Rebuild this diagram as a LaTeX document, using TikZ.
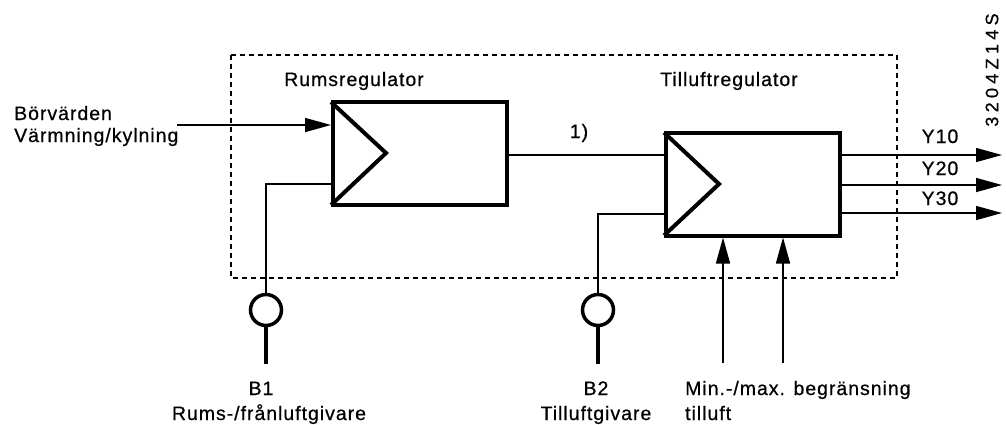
\documentclass[tikz,border=0pt]{standalone}
\usepackage{fontspec}
\setmainfont{Liberation Sans}[LetterSpace=5,FakeBold=0.6]
\usetikzlibrary{arrows.meta}
\begin{document}
\begin{tikzpicture}[x=1pt,y=-1pt,
  lbl/.style={inner sep=0pt,anchor=base,font=\fontsize{19.5}{21}\selectfont},
  lblw/.style={lbl,anchor=base west},
  block/.style={draw,line width=4pt,minimum width=174pt,minimum height=103pt,inner sep=0pt},
  amp/.style={line width=4pt,line join=miter},
  sig/.style={line width=1.5pt},
  frame/.style={line width=1.6pt,dash pattern=on 5pt off 4pt},
  sensor/.style={draw,circle,line width=3.5pt,minimum size=31pt,inner sep=0pt},
  stub/.style={line width=4.5pt},
  arr/.style={line width=1.5pt,-{Triangle[length=26pt,width=14pt]}}]
\useasboundingbox (0,0) rectangle (1006,424);
\fill[white] (0,0) rectangle (1006,424);

% controller boundary
\draw[frame] (231,55) rectangle (897,278);

% controller blocks
\node[block] (rr) at (420,153.5) {};
\node[block] (tr) at (753,184) {};
\coordinate (rrapex) at (386,153);
\coordinate (trapex) at (719,184);
\draw[amp] ([yshift=-2pt]rr.north west) -- (rrapex) -- ([yshift=2pt]rr.south west);
\draw[amp] ([yshift=-2pt]tr.north west) -- (trapex) -- ([yshift=2pt]tr.south west);

\node[lbl] (rrlbl) at (354,86) {Rumsregulator};
\node[lbl] (trlbl) at (729,86) {Tilluftregulator};

% setpoint input
\coordinate (sp) at (177,125);
\node[lblw] (sptxt1) at (14,120) {Börvärden};
\node[lblw] (sptxt2) at (14,142) {Värmning/kylning};
\draw[arr] (sp) -- (sp -| rr.west);

% link between the controllers
\coordinate (lk) at (508,155);
\draw[sig] (lk) -- (lk -| tr.west);
\node[lbl] (lklbl) at (579,138) {1)};

% sensor B1
\node[sensor] (b1) at (266,310) {};
\coordinate (b1end) at (266,364);
\coordinate (b1in) at (332,184);
\draw[sig] (b1in) -| (b1.north);
\draw[stub] (b1.south) -- (b1end);
\node[lbl] (b1lbl) at (261,395) {B1};
\node[lbl] (b1txt) at (269,420) {Rums-/frånluftgivare};

% sensor B2
\node[sensor] (b2) at (598,310) {};
\coordinate (b2end) at (598,364);
\coordinate (b2in) at (664,214);
\draw[sig] (b2in) -| (b2.north);
\draw[stub] (b2.south) -- (b2end);
\node[lbl] (b2lbl) at (596,395) {B2};
\node[lbl] (b2txt) at (596,420) {Tilluftgivare};

% min/max limitation inputs
\coordinate (lim1) at (723,363);
\coordinate (lim2) at (783,363);
\draw[arr] (lim1) -- (lim1 |- tr.south);
\draw[arr] (lim2) -- (lim2 |- tr.south);
\node[lblw] (limtxt1) at (685,395) {Min.-/max. begränsning};
\node[lblw] (limtxt2) at (685,420) {tilluft};

% outputs
\coordinate (y1) at (1002,155);
\coordinate (y2) at (1002,185);
\coordinate (y3) at (1002,213);
\draw[arr] (y1 -| tr.east) -- (y1);
\draw[arr] (y2 -| tr.east) -- (y2);
\draw[arr] (y3 -| tr.east) -- (y3);
\node[lbl] (y1lbl) at (940,143) {Y10};
\node[lbl] (y2lbl) at (940,175) {Y20};
\node[lbl] (y3lbl) at (940,205) {Y30};

% drawing number
\node[rotate=90,inner sep=0pt,font=\fontsize{18}{20}\selectfont\addfontfeatures{LetterSpace=24}] (dwg) at (992,70) {3204Z14S};
\end{tikzpicture}
\end{document}
